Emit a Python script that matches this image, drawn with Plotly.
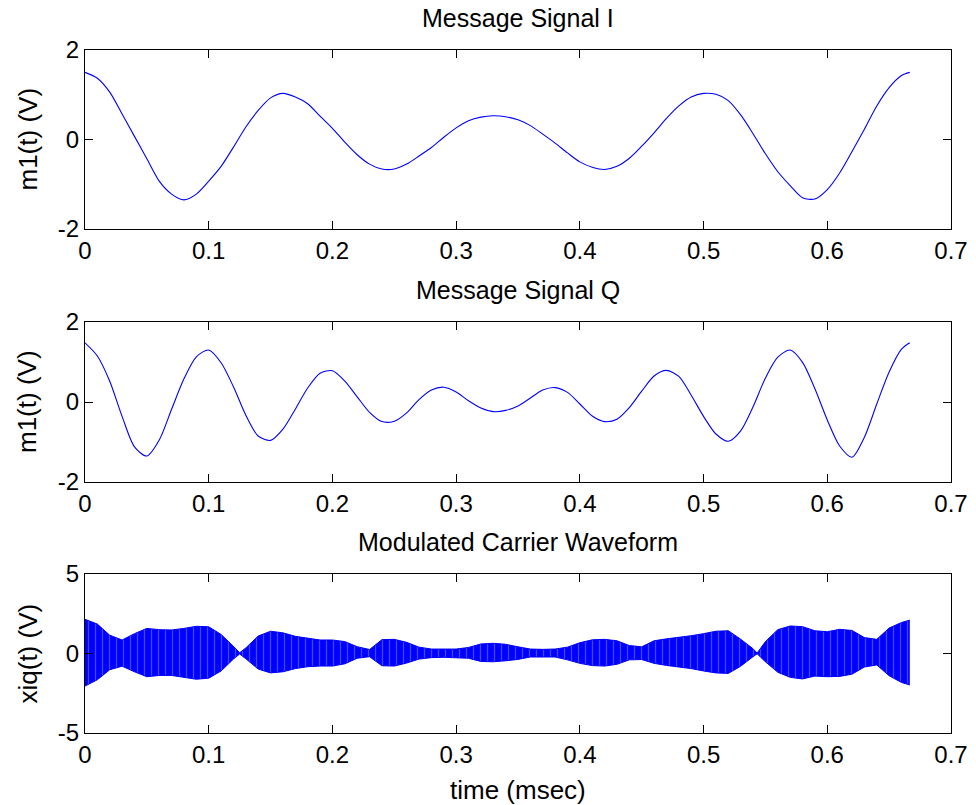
import plotly.graph_objects as go

# ---------------- data ----------------
t_msg = [0.00, 0.01, 0.02, 0.03, 0.04, 0.05, 0.06, 0.07, 0.08, 0.09,
         0.10, 0.11, 0.12, 0.13, 0.14, 0.15, 0.16, 0.17, 0.18, 0.19,
         0.20, 0.21, 0.22, 0.23, 0.24, 0.25, 0.26, 0.27, 0.28, 0.29,
         0.30, 0.31, 0.32, 0.33, 0.34, 0.35, 0.36, 0.37, 0.38, 0.39,
         0.40, 0.41, 0.42, 0.43, 0.44, 0.45, 0.46, 0.47, 0.48, 0.49,
         0.50, 0.51, 0.52, 0.53, 0.54, 0.55, 0.56, 0.57, 0.58, 0.59,
         0.60, 0.61, 0.62, 0.63, 0.64, 0.65, 0.66, 0.6667]

m_i = [1.50, 1.37, 1.06, 0.57, 0.07, -0.43, -0.93, -1.22, -1.35, -1.22,
       -0.93, -0.60, -0.17, 0.28, 0.65, 0.93, 1.03, 0.95, 0.80, 0.52,
       0.25, -0.06, -0.34, -0.55, -0.66, -0.66, -0.55, -0.37, -0.18, 0.05,
       0.26, 0.42, 0.50, 0.53, 0.51, 0.44, 0.31, 0.12, -0.08, -0.30,
       -0.50, -0.62, -0.67, -0.60, -0.42, -0.15, 0.15, 0.47, 0.75, 0.95,
       1.03, 1.01, 0.87, 0.55, 0.13, -0.32, -0.72, -1.03, -1.30, -1.33,
       -1.12, -0.75, -0.27, 0.23, 0.75, 1.16, 1.43, 1.50]

m_q = [1.48, 1.15, 0.52, -0.36, -1.12, -1.35, -0.95, -0.18, 0.58, 1.13,
       1.30, 0.98, 0.38, -0.33, -0.85, -0.96, -0.68, -0.18, 0.35, 0.72,
       0.78, 0.52, 0.13, -0.26, -0.49, -0.48, -0.27, 0.06, 0.30, 0.37,
       0.25, 0.03, -0.15, -0.24, -0.21, -0.10, 0.10, 0.30, 0.36, 0.24,
       -0.05, -0.35, -0.49, -0.43, -0.14, 0.27, 0.65, 0.79, 0.64, 0.17,
       -0.36, -0.80, -0.98, -0.72, -0.12, 0.60, 1.12, 1.30, 0.99, 0.33,
       -0.45, -1.10, -1.38, -0.88, -0.05, 0.75, 1.32, 1.48]

t_env = [0.00, 0.01, 0.02, 0.03, 0.04, 0.05, 0.06, 0.07, 0.08, 0.09,
         0.10, 0.11, 0.12, 0.125, 0.13, 0.14, 0.15, 0.16, 0.17, 0.18,
         0.19, 0.20, 0.21, 0.22, 0.23, 0.24, 0.25, 0.26, 0.27, 0.28,
         0.29, 0.30, 0.31, 0.32, 0.33, 0.34, 0.35, 0.36, 0.37, 0.38,
         0.39, 0.40, 0.41, 0.42, 0.43, 0.44, 0.45, 0.46, 0.47, 0.48,
         0.49, 0.50, 0.51, 0.52, 0.53, 0.54, 0.5433, 0.55, 0.56, 0.57,
         0.58, 0.59, 0.60, 0.61, 0.62, 0.63, 0.64, 0.65, 0.66, 0.6667]

env_upper = [2.15, 1.85, 1.15, 0.85, 1.25, 1.58, 1.50, 1.48, 1.58, 1.71,
             1.68, 1.20, 0.45, 0.05, 0.35, 1.10, 1.40, 1.30, 1.08, 0.95,
             0.85, 0.85, 0.75, 0.43, 0.25, 0.87, 0.89, 0.70, 0.40, 0.28,
             0.26, 0.28, 0.38, 0.60, 0.64, 0.58, 0.42, 0.28, 0.26, 0.28,
             0.40, 0.68, 0.86, 0.89, 0.80, 0.50, 0.42, 0.80, 0.92, 1.00,
             1.12, 1.25, 1.40, 1.43, 0.90, 0.30, 0.03, 0.75, 1.50, 1.73,
             1.69, 1.43, 1.37, 1.52, 1.45, 1.00, 0.89, 1.60, 1.95, 2.10]

env_lower = [-2.05, -1.65, -1.02, -0.80, -1.15, -1.46, -1.38, -1.38, -1.50, -1.62,
             -1.55, -1.10, -0.35, -0.03, -0.33, -0.98, -1.22, -1.15, -0.95, -0.83,
             -0.79, -0.79, -0.65, -0.30, -0.20, -0.77, -0.79, -0.60, -0.35, -0.26,
             -0.24, -0.25, -0.30, -0.50, -0.52, -0.46, -0.37, -0.22, -0.20, -0.22,
             -0.40, -0.62, -0.76, -0.79, -0.68, -0.40, -0.38, -0.62, -0.75, -0.84,
             -0.95, -1.10, -1.22, -1.25, -0.80, -0.20, -0.02, -0.52, -1.18, -1.50,
             -1.60, -1.42, -1.46, -1.44, -1.30, -0.85, -0.72, -1.40, -1.82, -1.98]

x_ticks = [0, 0.1, 0.2, 0.3, 0.4, 0.5, 0.6, 0.7]
x_tick_text = ["0", "0.1", "0.2", "0.3", "0.4", "0.5", "0.6", "0.7"]
y_ticks_msg = [-2, 0, 2]
y_ticks_mod = [-5, 0, 5]

titles = ["Message Signal I", "Message Signal Q", "Modulated Carrier Waveform"]
ylabels = ["m1(t) (V)", "m1(t) (V)", "xiq(t) (V)"]
xlabel = "time (msec)"

# ---------------- figure ----------------
W, H = 976, 805
FONT = "Liberation Sans, Arial, sans-serif"
BLUE = "#0000ff"

x_dom = [85 / W, 951 / W]
y_doms = [[1 - 229 / H, 1 - 50 / H],
          [1 - 482 / H, 1 - 322 / H],
          [1 - 733 / H, 1 - 574 / H]]

fig = go.Figure()

fig.add_trace(go.Scatter(x=t_msg, y=m_i, mode="lines",
                         line=dict(color=BLUE, width=1.1, shape="spline", smoothing=0.8),
                         xaxis="x", yaxis="y", showlegend=False))
fig.add_trace(go.Scatter(x=t_msg, y=m_q, mode="lines",
                         line=dict(color=BLUE, width=1.1, shape="spline", smoothing=0.8),
                         xaxis="x2", yaxis="y2", showlegend=False))
fig.add_trace(go.Scatter(x=t_env, y=env_lower, mode="lines",
                         line=dict(color=BLUE, width=1),
                         xaxis="x3", yaxis="y3", showlegend=False))
fig.add_trace(go.Scatter(x=t_env, y=env_upper, mode="lines",
                         line=dict(color=BLUE, width=1),
                         fill="tonexty", fillcolor=BLUE,
                         fillpattern=dict(shape="|", bgcolor=BLUE, fgcolor="#8c8cff",
                                          size=7, solidity=0.18),
                         xaxis="x3", yaxis="y3", showlegend=False))

axis_common = dict(showline=True, linecolor="black", linewidth=1, mirror="ticks",
                   ticks="inside", ticklen=8, tickcolor="black", tickwidth=1,
                   showgrid=False, zeroline=False, automargin=False,
                   tickfont=dict(family=FONT, size=24, color="black"))

layout = dict(width=W, height=H, margin=dict(l=0, r=0, t=0, b=0, pad=0, autoexpand=False),
              paper_bgcolor="white", plot_bgcolor="white", showlegend=False)

for i in range(3):
    sfx = "" if i == 0 else str(i + 1)
    layout["xaxis" + sfx] = dict(axis_common, domain=x_dom, range=[0, 0.7],
                                 tickvals=x_ticks, ticktext=x_tick_text,
                                 anchor="y" + sfx, ticklabelstandoff=0)
    yt = y_ticks_mod if i == 2 else y_ticks_msg
    yr = [-5, 5] if i == 2 else [-2, 2]
    layout["yaxis" + sfx] = dict(axis_common, domain=y_doms[i], range=yr,
                                 tickvals=yt, ticktext=[str(v) for v in yt],
                                 anchor="x" + sfx, ticklabelstandoff=0)

fig.update_layout(**layout)

ann = []
title_y_px = [18, 290, 542]
for i in range(3):
    ann.append(dict(text=titles[i], x=0.5 * (x_dom[0] + x_dom[1]), y=1 - title_y_px[i] / H,
                    xref="paper", yref="paper", xanchor="center", yanchor="middle",
                    showarrow=False, font=dict(family=FONT, size=25, color="black")))
    yc = 0.5 * (y_doms[i][0] + y_doms[i][1])
    ann.append(dict(text=ylabels[i], x=27 / W, y=yc, textangle=-90,
                    xref="paper", yref="paper", xanchor="center", yanchor="middle",
                    showarrow=False, font=dict(family=FONT, size=26, color="black")))
ann.append(dict(text=xlabel, x=0.5 * (x_dom[0] + x_dom[1]), y=1 - 790 / H,
                xref="paper", yref="paper", xanchor="center", yanchor="middle",
                showarrow=False, font=dict(family=FONT, size=26, color="black")))
fig.update_layout(annotations=ann)

fig.write_html("out.html")
